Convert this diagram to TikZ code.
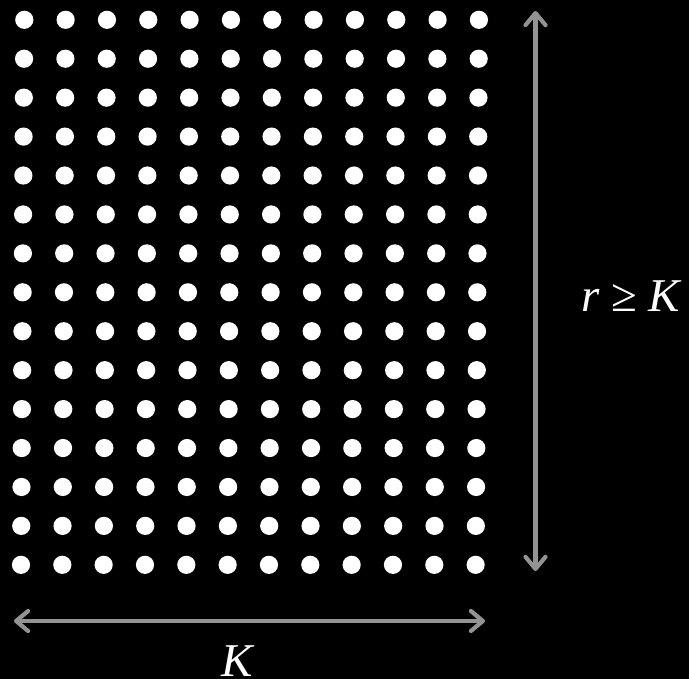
\documentclass[tikz,border=0pt]{standalone}
\usepackage{fontspec}
\setmainfont{Liberation Serif}
\usetikzlibrary{arrows.meta}
\begin{document}
\begin{tikzpicture}[x=1pt,y=-1pt,
  dot/.style={fill=white,draw=none},
  dimarrow/.style={draw=gray!85!white,line width=4.2pt,line cap=round,
    {Straight Barb[length=12pt,width=20pt,line cap=round,line join=round]}-{Straight Barb[length=12pt,width=20pt,line cap=round,line join=round]}},
  lbl/.style={text=white,font=\fontsize{47}{50}\selectfont,inner sep=0pt}]
\fill[black] (0,0) rectangle (689,679);
\useasboundingbox (0,0) rectangle (689,679);
\foreach \r in {0,...,14}{
  \foreach \c in {0,...,11}{
    \pgfmathsetmacro{\px}{24.3-3.3*\r/14+\c*41.33}
    \pgfmathsetmacro{\py}{19.8+\r*38.93}
    \fill[dot] (\px,\py) circle (9.1);
  }
}
\coordinate (vt) at (535.5,11);
\coordinate (vb) at (535.5,571);
\coordinate (hl) at (14,621);
\coordinate (hr) at (485,621);
\draw[dimarrow] (vt) -- (vb);
\draw[dimarrow] (hl) -- (hr);
\node[lbl,anchor=base west] (rk) at (581,312) {\textit{r} ≥ \textit{K}};
\node[lbl,anchor=base,text depth=0pt] (k) at (238,676) {\textit{K}};
\end{tikzpicture}
\end{document}
